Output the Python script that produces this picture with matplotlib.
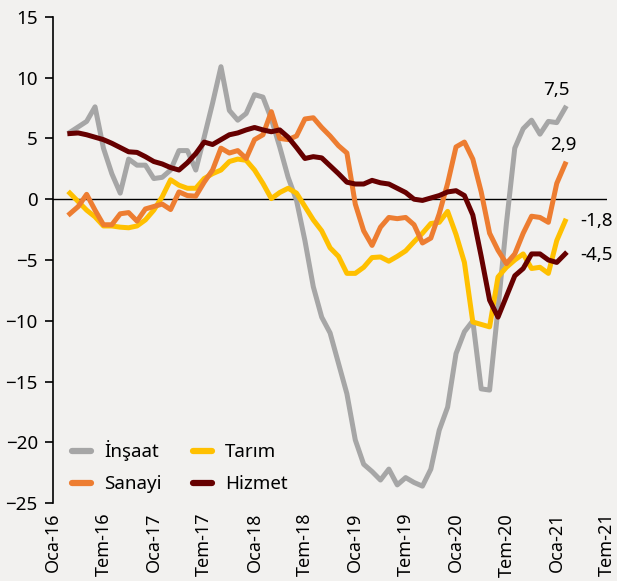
import matplotlib
matplotlib.use("Agg")
import matplotlib.pyplot as plt
import numpy as np

plt.rcParams["font.family"] = ["Noto Sans", "DejaVu Sans"]

# Months since Jan 2016 (Mar 2016 .. Feb 2021)
months = np.arange(2, 62)

insaat = [5.5, 5.95, 6.4, 7.6, 4.2, 2.1, 0.5, 3.3, 2.8, 2.8, 1.7, 1.8, 2.4, 4.0, 4.0, 2.4,
          5.1, 7.9, 10.9, 7.3, 6.5, 7.05, 8.6, 8.4, 6.6, 4.3, 1.8, -0.1, -3.4, -7.2, -9.7, -11.0,
          -13.5, -16.0, -19.8, -21.8, -22.4, -23.1, -22.2, -23.5, -22.9, -23.3, -23.6, -22.2, -19.0, -17.1,
          -12.7, -10.9, -10.0, -15.6, -15.7, -9.0, -2.0, 4.2, 5.8, 6.5, 5.35, 6.4, 6.3, 7.5]

sanayi = [-1.2, -0.6, 0.4, -0.9, -2.1, -2.1, -1.2, -1.1, -1.8, -0.8, -0.6, -0.4, -0.85, 0.6, 0.3, 0.25,
          1.4, 2.4, 4.2, 3.8, 4.0, 3.35, 4.9, 5.3, 7.2, 5.0, 4.9, 5.2, 6.6, 6.7, 5.9, 5.2,
          4.4, 3.8, -0.4, -2.6, -3.8, -2.3, -1.5, -1.6, -1.5, -2.1, -3.6, -3.2, -1.2, 1.3,
          4.3, 4.7, 3.3, 0.6, -2.8, -4.2, -5.3, -4.5, -2.8, -1.4, -1.5, -1.9, 1.3, 2.9]

tarim = [0.5, -0.2, -0.9, -1.45, -2.2, -2.2, -2.3, -2.35, -2.2, -1.7, -0.9, 0.2, 1.6, 1.15, 0.9, 0.9,
         1.7, 2.1, 2.4, 3.1, 3.3, 3.2, 2.4, 1.3, 0.05, 0.55, 0.9, 0.5, -0.6, -1.7, -2.6, -4.0,
         -4.7, -6.1, -6.1, -5.6, -4.8, -4.75, -5.1, -4.7, -4.25, -3.5, -2.8, -2.0, -1.9, -1.0,
         -2.9, -5.2, -10.1, -10.3, -10.5, -6.4, -5.6, -5.0, -4.5, -5.7, -5.6, -6.1, -3.4, -1.8]

hizmet = [5.4, 5.45, 5.3, 5.1, 4.9, 4.6, 4.25, 3.9, 3.85, 3.5, 3.1, 2.9, 2.6, 2.4, 3.0, 3.75,
          4.7, 4.5, 4.9, 5.3, 5.45, 5.7, 5.9, 5.7, 5.55, 5.7, 5.1, 4.25, 3.35, 3.5, 3.4, 2.75,
          2.1, 1.4, 1.25, 1.25, 1.55, 1.35, 1.25, 0.9, 0.55, 0.0, -0.1, 0.1, 0.3, 0.6,
          0.7, 0.3, -1.3, -4.7, -8.3, -9.7, -8.0, -6.3, -5.7, -4.5, -4.5, -5.0, -5.2, -4.5]

tick_pos = np.arange(0, 67, 6)
tick_labels = ["Oca-16", "Tem-16", "Oca-17", "Tem-17", "Oca-18", "Tem-18",
               "Oca-19", "Tem-19", "Oca-20", "Tem-20", "Oca-21", "Tem-21"]
end_labels = ["7,5", "2,9", "-1,8", "-4,5"]

bg = "#F2F1EF"
fig = plt.figure(figsize=(6.17, 5.81), dpi=100, facecolor=bg)
ax = fig.add_axes([0.086, 0.134, 0.898, 0.837], facecolor=bg)

lw = 3.6
l_ins, = ax.plot(months, insaat, color="#A6A6A6", lw=lw, label="İnşaat", zorder=2)
l_tar, = ax.plot(months, tarim, color="#FFC000", lw=lw, label="Tarım", zorder=3)
l_san, = ax.plot(months, sanayi, color="#ED7D31", lw=lw, label="Sanayi", zorder=4)
l_hiz, = ax.plot(months, hizmet, color="#660000", lw=lw, label="Hizmet", zorder=5)
ax.axhline(0, color="black", lw=1.0, zorder=1)

ax.set_xlim(0, 66)
ax.set_ylim(-25, 15)
ax.set_yticks(np.arange(-25, 16, 5))
ax.set_xticks(tick_pos)
ax.set_xticklabels(tick_labels, rotation=90, fontsize=13)
ax.tick_params(axis="x", length=0, pad=7)
ax.tick_params(axis="y", labelsize=13.5, length=6, width=1.2, direction="out", pad=5)
for s in ["top", "right", "bottom"]:
    ax.spines[s].set_visible(False)
ax.spines["left"].set_linewidth(1.2)

# end labels
ax.text(59.9, 9.0, end_labels[0], fontsize=13.5, ha="center", va="center")
ax.text(60.8, 4.5, end_labels[1], fontsize=13.5, ha="center", va="center")
ax.text(62.8, -1.8, end_labels[2], fontsize=13.5, ha="left", va="center")
ax.text(62.8, -4.6, end_labels[3], fontsize=13.5, ha="left", va="center")

leg = ax.legend(handles=[l_ins, l_san, l_tar, l_hiz], ncol=2, loc="lower left",
                bbox_to_anchor=(0.021, 0.005), frameon=False, fontsize=13.5,
                handlelength=1.0, columnspacing=1.7, handletextpad=0.7, labelspacing=0.75,
                borderaxespad=0.0)
for h in leg.legend_handles:
    h.set_solid_capstyle("round")
    h.set_linewidth(4.5)

fig.savefig("out.png", dpi=100, facecolor=bg)
